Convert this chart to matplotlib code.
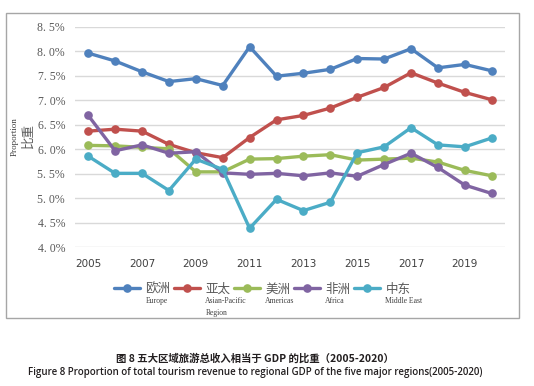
import matplotlib.pyplot as plt
from matplotlib.patches import Rectangle
from matplotlib.ticker import FuncFormatter

years = list(range(2005, 2021))
europe = [7.96, 7.80, 7.58, 7.38, 7.44, 7.30, 8.09, 7.49, 7.55, 7.63, 7.85, 7.84, 8.05, 7.66, 7.73, 7.60]
asia_pacific = [6.37, 6.41, 6.37, 6.10, 5.93, 5.83, 6.24, 6.60, 6.69, 6.84, 7.06, 7.26, 7.56, 7.35, 7.16, 7.01]
americas = [6.08, 6.07, 6.04, 6.01, 5.54, 5.54, 5.80, 5.81, 5.86, 5.89, 5.78, 5.80, 5.82, 5.74, 5.57, 5.46]
africa = [6.69, 5.97, 6.09, 5.92, 5.95, 5.52, 5.49, 5.51, 5.46, 5.52, 5.45, 5.69, 5.92, 5.63, 5.27, 5.10]
middle_east = [5.86, 5.51, 5.51, 5.16, 5.80, 5.59, 4.39, 4.98, 4.75, 4.92, 5.93, 6.05, 6.44, 6.09, 6.05, 6.23]

series = [europe, asia_pacific, americas, africa, middle_east]
names_cn = ["欧洲", "亚太", "美洲", "非洲", "中东"]
names_en = ["Europe", "Asian-Pacific\nRegion", "Americas", "Africa", "Middle East"]
colors = ["#4F81BD", "#C0504D", "#9BBB59", "#8064A2", "#4BACC6"]

fig = plt.figure(figsize=(5.34, 3.86), dpi=100)
ax = fig.add_axes([0.140, 0.359, 0.806, 0.572])

# outer chart frame
fig.patches.append(Rectangle((6 / 534, 1 - 318 / 386), 513 / 534, 305 / 386,
                             transform=fig.transFigure, fill=False,
                             edgecolor="#a6a6a6", linewidth=1.0))

for vals, name, c in zip(series, names_cn, colors):
    ax.plot(years, vals, color=c, linewidth=2.4, marker="o", markersize=5.2,
            label=name, solid_capstyle="round")

ax.set_xlim(2004.5, 2020.5)
ax.set_ylim(4.0, 8.5)
ax.set_yticks([4.0 + 0.5 * i for i in range(10)])
ax.yaxis.set_major_formatter(FuncFormatter(lambda v, p: f"{v:.1f}%".replace(".", ". ")))
ax.set_xticks(list(range(2005, 2021, 2)))
ax.grid(axis="y", color="#d9d9d9", linewidth=1.0)
ax.set_axisbelow(True)
for s in ax.spines.values():
    s.set_visible(False)
ax.tick_params(length=0)
ax.tick_params(axis="y", pad=7, labelsize=8.5, labelcolor="#595959")
ax.tick_params(axis="x", pad=8, labelsize=7.5, labelcolor="#404040")
for t in ax.get_yticklabels():
    t.set_fontfamily("Liberation Serif")

fig.text(15 / 534, 1 - 137 / 386, "Proportion", rotation=90, ha="center", va="center",
         fontsize=6.5, family="Liberation Serif", color="#404040")
fig.text(28 / 534, 1 - 135 / 386, "比重", rotation=90, ha="center", va="center",
         fontsize=9, family=["Noto Sans CJK SC", "DejaVu Sans"], color="#595959")

leg = fig.legend(loc="center", bbox_to_anchor=(0.491, 1 - 289 / 386), ncol=5,
                 frameon=False, handlelength=2.1, handletextpad=0.4, columnspacing=0.3,
                 prop={"family": "Noto Sans CJK SC", "size": 9})
for t in leg.get_texts():
    t.set_color("#595959")

fig.canvas.draw()
inv = fig.transFigure.inverted()
for t, en in zip(leg.get_texts(), names_en):
    bb = t.get_window_extent()
    x0, y0 = inv.transform((bb.x0, bb.y0))
    fig.text(x0, y0 - 0.004, en, ha="left", va="top", fontsize=5.5,
             family="Liberation Serif", color="#404040", linespacing=1.7)

fig.text(0.478, 1 - 358 / 386, "图 8 五大区域旅游总收入相当于 GDP 的比重（2005-2020）",
         ha="center", va="center", fontsize=7.5, fontweight="bold",
         family=["Noto Sans CJK SC", "DejaVu Sans"], color="#231f20")
fig.text(0.478, 1 - 373 / 386,
         "Figure 8 Proportion of total tourism revenue to regional GDP of the five major regions(2005-2020)",
         ha="center", va="center", fontsize=7.0, fontweight="semibold",
         family="Open Sans", color="#231f20")

fig.savefig("out.png", dpi=100)
